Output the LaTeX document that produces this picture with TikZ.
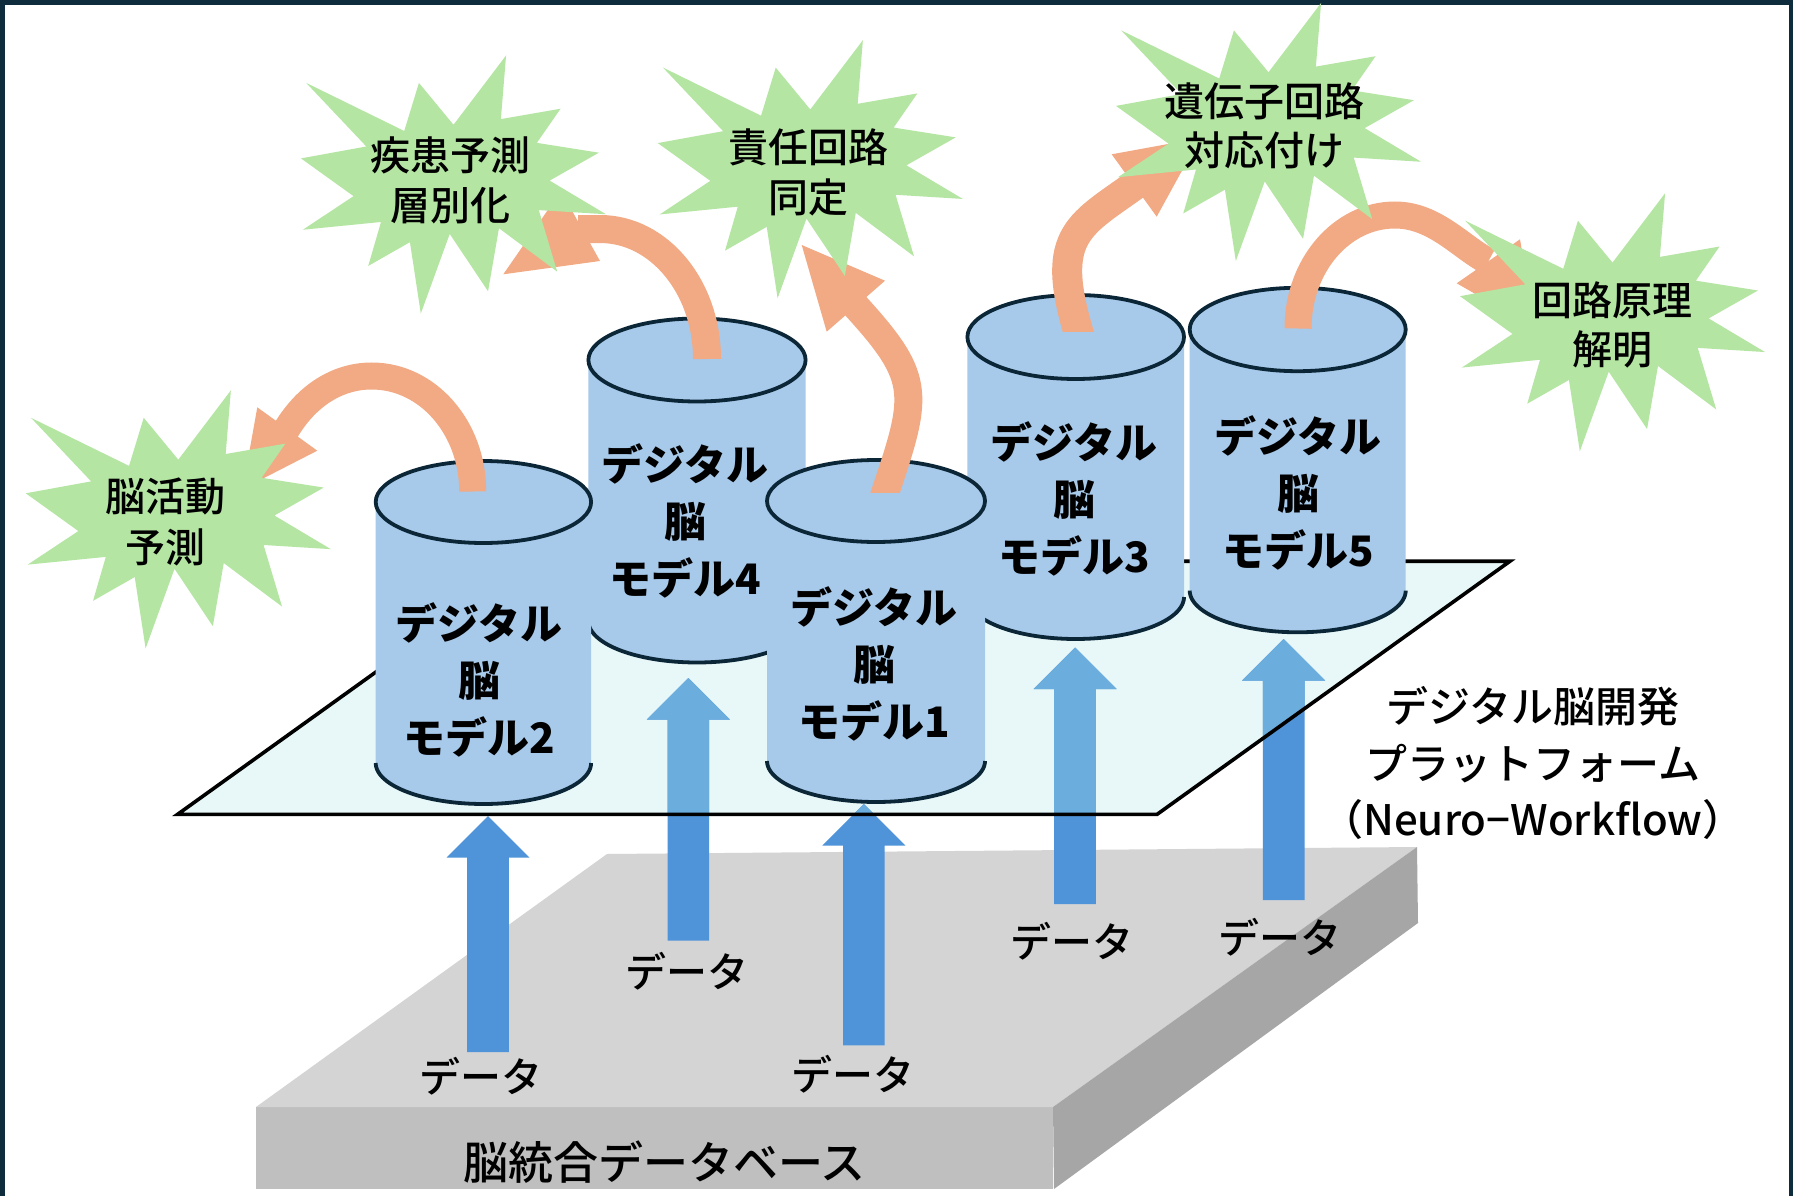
\documentclass[tikz,border=0pt]{standalone}
\usepackage{fontspec}
\setmainfont{Noto Sans CJK JP}
\newfontfamily\jpmed{Noto Sans CJK JP Medium}
\usetikzlibrary{calc}
\definecolor{framec}{HTML}{0F2C3D}
\definecolor{cylfill}{HTML}{A7C9EA}
\definecolor{cyledge}{HTML}{0B2637}
\definecolor{platfill}{HTML}{E8F8F8}
\definecolor{dbtop}{HTML}{D4D4D4}
\definecolor{dbfront}{HTML}{BFBFBF}
\definecolor{dbside}{HTML}{A6A6A6}
\definecolor{bluedark}{HTML}{4F93D8}
\definecolor{bluelight}{HTML}{6BADDD}
\definecolor{orangec}{HTML}{F2AA84}
\definecolor{starc}{HTML}{B4E5A2}
\newcommand\fs[2]{\fontsize{#1}{#2}\selectfont}
% cylinder: name, cx, topcy, botcy, rx, ry, label x, label y, label
\newcommand\cylinder[9]{%
  \fill[cylfill] plot[domain=0:180,samples=72] ({#2+#5*cos(\x)},{#4+#6*sin(\x)}) -- (#2-#5,#3) -- (#2+#5,#3) -- cycle;
  \draw[cyledge, line width=3.8pt] plot[domain=0:180,samples=72] ({#2+#5*cos(\x)},{#4+#6*sin(\x)});
  \draw[fill=cylfill, draw=cyledge, line width=3.8pt] (#2,#3) ellipse [x radius=#5, y radius=#6];
  \coordinate (#1) at (#2,#3);
  \node[cyltext] (#1-label) at (#7,#8) {#9};
}
% block arrow from bottom coordinate #1 to tip coordinate #2 in colour #3
\newcommand\blockarr[3]{%
  \fill[#3] ($(#1)+(-20.8,0)$) -- ($(#2)+(-20.8,41.5)$) -- ($(#2)+(-41.5,41.5)$) -- (#2)
     -- ($(#2)+(41.5,41.5)$) -- ($(#2)+(20.8,41.5)$) -- ($(#1)+(20.8,0)$) -- cycle;
}
% explosion star: name, x0, y0 (size 305 x 258)
\newcommand\seal[3]{%
  \fill[starc, shift={(#2,#3)}, xscale=305/216, yscale=258/216]
    (108,58) -- (145.22,0) -- (141.55,53.25) -- (183.80,44.57) -- (167.02,73.15)
    -- (210.97,81.37) -- (176.07,104.75) -- (216,132.90) -- (168.37,129.42)
    -- (181.45,180.95) -- (140.20,144.57) -- (132.47,197.37) -- (105.32,149.35)
    -- (84.85,216) -- (77.15,156.27) -- (47.62,176.17) -- (56.67,139.37)
    -- (1.35,145.87) -- (37.22,117.75) -- (0,86.15) -- (46.27,76.17)
    -- (3.70,22.95) -- (73.12,63.20) -- (83.52,22.95) -- cycle;
  \coordinate (#1) at (#2+152.5,#3+129);
}
\begin{document}
\begin{tikzpicture}[x=1pt,y=-1pt,
  cyltext/.style={font=\fs{42}{57}\bfseries, align=center, inner sep=0pt},
  startext/.style={font=\jpmed\fs{40}{50}, align=center, inner sep=0pt},
  datatext/.style={font=\jpmed\fs{41}{48}, inner sep=0pt},
  oshaft/.style={draw=orangec, line width=28pt, line cap=butt},
  ohead/.style={fill=orangec}]
\useasboundingbox (0,0) rectangle (1796,1196);
\fill[white] (0,0) rectangle (1796,1196);
% frame
\draw[framec, line width=4.5pt] (2.5,1230) -- (2.5,2.5) -- (1791,2.5) -- (1791,1230);
% database block
\fill[dbfront] (256,1107) rectangle (1053,1189);
\fill[dbtop] (256,1107) -- (1053,1107) -- (1417,847) -- (607,854) -- cycle;
\fill[dbside] (1053,1107) -- (1417,847) -- (1418,923) -- (1054,1189) -- cycle;
\node[font=\jpmed\fs{45}{50}, inner sep=0pt] (db) at (664.6,1162) {脳統合データベース};
% platform
\coordinate (pBL) at (177.5,814.4);
\coordinate (pBR) at (1157,814.4);
\coordinate (pTR) at (1510,561.2);
\coordinate (pTL) at (530.3,561.2);
\fill[platfill] (pBL) -- (pBR) -- (pTR) -- (pTL) -- cycle;
% data arrows
\coordinate (aAb) at (488,1052);   \coordinate (aAt) at (488,816);
\coordinate (aBb) at (688.3,940.6); \coordinate (aBt) at (688.3,678);
\coordinate (aCb) at (863.8,1045.4); \coordinate (aCt) at (863.8,804);
\coordinate (aDb) at (1075,904);   \coordinate (aDt) at (1075,647.5);
\coordinate (aEb) at (1283.7,900); \coordinate (aEt) at (1283.7,639);
\foreach \n in {A,B,C,D,E} {\blockarr{a\n b}{a\n t}{bluedark}}
\begin{scope}
  \clip (pBL) -- (pBR) -- (pTR) -- (pTL) -- cycle;
  \foreach \n in {A,B,C,D,E} {\blockarr{a\n b}{a\n t}{bluelight}}
\end{scope}
\draw[black, line width=3.6pt] (pBL) -- (pBR) -- (pTR) -- (pTL) -- cycle;
\node[datatext] (dA) at (481,1076) {データ};
\node[datatext] (dB) at (687.4,971.5) {データ};
\node[datatext] (dC) at (853,1074) {データ};
\node[datatext] (dD) at (1072,941) {データ};
\node[datatext] (dE) at (1280,937) {データ};
\node[font=\jpmed\fs{42}{56.5}, align=center, inner sep=0pt] (plat) at (1533,763)
  {デジタル脳開発\\プラットフォーム\\（Neuro−Workflow）};
% cylinders
\cylinder{m4}{697}{360}{621}{108.6}{41.5}{685}{521}{デジタル\\脳\\モデル4}
\cylinder{m3}{1075.7}{337}{597}{108.3}{42}{1074}{499}{デジタル\\脳\\モデル3}
\cylinder{m5}{1297.7}{329.5}{590.6}{108}{41.7}{1298}{492.5}{デジタル\\脳\\モデル5}
\cylinder{m2}{483.4}{502}{763}{107.7}{41}{479}{680}{デジタル\\脳\\モデル2}
\cylinder{m1}{876}{501}{761}{109}{41}{874}{664}{デジタル\\脳\\モデル1}
% orange arrows
\coordinate (o1s) at (472.7,491.5); \coordinate (o1e) at (284.5,432.7);
\draw[oshaft, line width=27pt] (o1s) .. controls (472.7,427.5) and (427.5,376) .. (371.7,376)
   .. controls (337.5,376) and (305.6,395.7) .. (o1e);
\fill[ohead] (257.3,407.3) -- (242.7,488.9) -- (317.3,450.7) -- cycle;
\coordinate (o2s) at (707,359); \coordinate (o2e) at (578,229);
\draw[oshaft] (o2s) .. controls (707,287.2) and (659.1,229) .. (600,229) -- (o2e);
\fill[ohead] (600,261) -- (503.3,274.3) -- (561,191) -- cycle;
\coordinate (o3s) at (882,502); \coordinate (o3e) at (852.5,302.5);
\begin{scope}
  \clip (0,0) rectangle (1796,492);
  \draw[oshaft] (o3s) .. controls (918,395) and (924,381) .. (855.8,306.2) -- (o3e);
\end{scope}
\fill[ohead] (826.7,331.7) -- (801.7,245) -- (885,280.7) -- cycle;
\coordinate (o4s) at (1081,340.5); \coordinate (o4e) at (1138,182.8);
\begin{scope}
  \clip (0,0) rectangle (1796,331);
  \draw[oshaft, line width=30pt] (o4s) .. controls (1048,236) and (1077.3,226.4) .. (1134.2,185.5) -- (o4e);
\end{scope}
\fill[ohead] (1111.7,154.3) -- (1199.8,138.2) -- (1156.7,216.7) -- cycle;
\coordinate (o5s) at (1298,328.5); \coordinate (o5e) at (1488.3,261.3);
\draw[oshaft, line width=27pt] (o5s) .. controls (1298,265.8) and (1341.4,215) .. (1395,215)
   .. controls (1435,215) and (1461.6,247.8) .. (o5e);
\fill[ohead] (1456.7,283.3) -- (1534.6,327.9) -- (1520,239.3) -- cycle;
% stars
\seal{s1}{301}{55.5}
\seal{s2}{657.8}{40.2}
\seal{s3}{1116}{3}
\seal{s4}{1460}{193.3}
\seal{s5}{25.8}{390.4}
\node[startext] (t1) at (450,180.5) {疾患予測\\層別化};
\node[startext] (t2) at (808.6,172.3) {責任回路\\同定};
\node[startext, font=\jpmed\fs{40}{49}] (t3) at (1264.5,125.4) {遺伝子回路\\対応付け};
\node[startext, font=\jpmed\fs{40}{49}] (t4) at (1612.7,324.5) {回路原理\\解明};
\node[startext, font=\jpmed\fs{40}{51.5}] (t5) at (165,521.8) {脳活動\\予測};
\end{tikzpicture}
\end{document}
